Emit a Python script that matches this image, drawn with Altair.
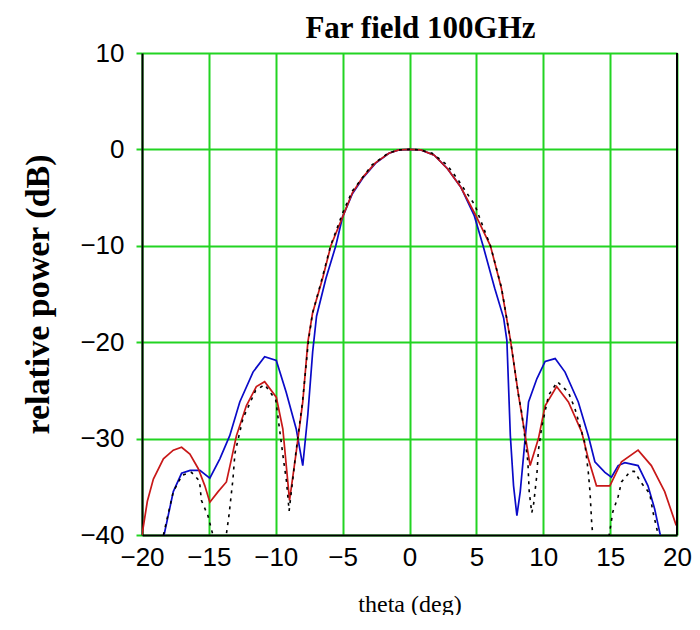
import altair as alt
import pandas as pd

# Blue series (solid)
blue_x = [-18.35, -17.66, -17.04, -16.4, -15.67, -14.93, -14.18, -13.44, -12.69, -11.7,
          -10.83, -9.96, -9.22, -8.47, -7.98, -7.6, -7.24, -6.95, -6.25, -5.51,
          -5.0, -4.27, -3.5, -2.55, -1.54, -0.8, 0.0, 0.85, 1.85, 2.84,
          3.83, 4.85, 5.5, 6.37, 7.04, 7.28, 7.54, 7.78, 8.03, 8.28,
          8.9, 9.52, 10.14, 10.89, 11.63, 12.62, 13.37, 13.86, 14.61, 15.1,
          15.6, 16.1, 17.09, 17.83, 18.33, 18.75]
blue_y = [-40.0, -35.5, -33.6, -33.3, -33.3, -34.1, -32.1, -29.7, -26.2, -23.1,
          -21.5, -21.9, -25.2, -29.0, -32.8, -27.5, -21.0, -17.3, -13.4, -10.0,
          -7.0, -4.6, -3.0, -1.45, -0.4, -0.05, 0.0, -0.05, -0.6, -2.0,
          -3.9, -6.9, -10.0, -14.4, -17.5, -19.8, -29.7, -34.9, -38.0, -35.5,
          -26.2, -23.8, -22.0, -21.7, -23.1, -26.2, -29.7, -32.4, -33.5, -34.0,
          -32.8, -32.5, -32.8, -34.9, -37.3, -40.0]

# Red series (solid)
red_x = [-20.0, -19.6, -19.15, -18.4, -17.66, -17.04, -16.42, -15.8, -15.3, -14.93,
         -14.31, -13.69, -13.31, -12.94, -12.2, -11.45, -10.83, -9.96, -9.47, -8.97,
         -8.47, -7.98, -7.6, -7.25, -6.5, -5.88, -5.0, -4.27, -3.5, -2.55,
         -1.54, -0.8, 0.0, 0.85, 1.85, 2.84, 3.83, 4.9, 6.05, 6.87,
         7.55, 8.15, 8.65, 9.02, 9.64, 10.14, 11.0, 11.88, 12.87, 13.37,
         13.98, 14.98, 15.85, 17.09, 18.08, 19.08, 19.94]
red_y = [-40.0, -36.5, -34.2, -32.1, -31.2, -30.9, -31.6, -33.1, -34.9, -36.6,
         -35.5, -34.5, -32.1, -29.7, -26.6, -24.6, -24.1, -25.7, -29.0, -36.4,
         -31.4, -26.2, -20.0, -17.0, -13.4, -10.0, -7.0, -4.5, -2.9, -1.4,
         -0.4, -0.05, 0.0, -0.05, -0.6, -2.0, -3.9, -6.7, -10.0, -14.4,
         -19.8, -25.5, -29.7, -32.8, -30.0, -26.6, -24.6, -26.2, -29.3, -32.1,
         -34.9, -34.9, -32.4, -31.2, -32.8, -35.5, -39.0]

# Black dotted series
dot_x = [-18.4, -17.66, -17.0, -16.3, -15.7, -15.56, -15.07, -14.7, -14.2, -13.7,
         -13.5, -13.2, -13.05, -12.45, -11.5, -10.83, -10.0, -9.4, -9.2, -9.0,
         -8.5, -8.0, -7.55, -7.25, -6.5, -5.9, -5.0, -4.27, -3.55, -2.8,
         -1.6, -0.8, 0.0, 0.8, 1.7, 2.8, 3.55, 4.9, 5.3, 6.05,
         6.87, 7.55, 8.15, 8.4, 8.85, 8.95, 9.14, 9.27, 9.52, 9.64,
         9.9, 10.4, 11.06, 11.88, 12.37, 13.1, 13.37, 13.5, 13.62, 13.7,
         14.3, 15.0, 15.2, 15.6, 15.85, 16.5, 16.8, 17.34, 17.96, 18.2,
         18.6]
dot_y = [-40.0, -35.5, -33.8, -33.5, -34.4, -36.4, -38.0, -40.0, -45.0, -40.0,
         -38.0, -34.2, -31.5, -27.9, -25.0, -24.4, -26.0, -32.4, -34.4, -37.5,
         -31.5, -26.2, -19.8, -17.0, -13.2, -10.0, -6.6, -4.3, -3.0, -1.6,
         -0.4, -0.05, 0.0, -0.05, -0.4, -1.6, -3.0, -5.8, -7.3, -10.0,
         -14.3, -19.8, -25.5, -27.4, -32.4, -35.5, -37.7, -36.9, -33.8, -31.2,
         -28.7, -25.5, -24.1, -25.2, -26.9, -30.4, -33.5, -35.6, -38.7, -40.0,
         -45.0, -39.4, -37.6, -36.0, -34.5, -33.4, -33.4, -34.6, -35.7, -37.6,
         -40.0]

x_ticks = [-20, -15, -10, -5, 0, 5, 10, 15, 20]
y_ticks = [-40, -30, -20, -10, 0, 10]

GREEN = "#22d422"

blue_df = pd.DataFrame({"theta": blue_x, "power": blue_y})
red_df = pd.DataFrame({"theta": red_x, "power": red_y})
dot_df = pd.DataFrame({"theta": dot_x, "power": dot_y})

xscale = alt.Scale(domain=[-20, 20], nice=False, zero=False)
yscale = alt.Scale(domain=[-40, 10], nice=False, zero=False)

xaxis = alt.Axis(values=x_ticks, title="theta (deg)", grid=True, gridColor=GREEN, gridWidth=2,
                 gridOpacity=1, ticks=False, labelPadding=9, labelFlush=False,
                 labelFont="Liberation Sans", labelFontSize=26, labelColor="black",
                 domainColor="black", domainWidth=2,
                 titleFont="Liberation Serif", titleFontSize=24, titleFontWeight="normal",
                 titleColor="black", titlePadding=22)
yaxis = alt.Axis(values=y_ticks, title="relative power (dB)", grid=True, gridColor=GREEN, gridWidth=2,
                 gridOpacity=1, ticks=True, tickColor=GREEN, tickSize=6, tickWidth=2,
                 labelPadding=12, labelFlush=False, labelFont="Liberation Sans", labelFontSize=26,
                 labelColor="black", domainColor="black", domainWidth=2,
                 titleFont="Liberation Serif", titleFontSize=34,
                 titleFontWeight="bold", titleColor="black", titlePadding=24)

blue = alt.Chart(blue_df).mark_line(color="#0a0ac8", strokeWidth=1.7, clip=True).encode(
    x=alt.X("theta:Q", scale=xscale, axis=xaxis),
    y=alt.Y("power:Q", scale=yscale, axis=yaxis),
)
red = alt.Chart(red_df).mark_line(color="#c81818", strokeWidth=1.7, clip=True).encode(
    x=alt.X("theta:Q", scale=xscale),
    y=alt.Y("power:Q", scale=yscale),
)
dots = alt.Chart(dot_df).mark_line(color="black", strokeWidth=1.6, strokeDash=[3, 5], clip=True).encode(
    x=alt.X("theta:Q", scale=xscale),
    y=alt.Y("power:Q", scale=yscale),
)
border = alt.Chart(pd.DataFrame({"a": [0]})).mark_rule(color="black", strokeWidth=2).encode(
    x=alt.datum(20, scale=xscale),
    y=alt.datum(-40, scale=yscale),
    y2=alt.datum(10),
)

chart = alt.layer(blue, red, dots, border).properties(
    width=535,
    height=482,
    autosize=alt.AutoSizeParams(type="none"),
    padding={"left": 134, "top": 45, "right": 15, "bottom": 80},
    title=alt.TitleParams("Far field 100GHz", font="Liberation Serif", fontSize=31,
                          fontWeight="bold", color="black", offset=-5, dx=11),
).configure_view(stroke=None).configure(background="white")

chart.save("out.html", embed_options={"renderer": "svg", "actions": False})
